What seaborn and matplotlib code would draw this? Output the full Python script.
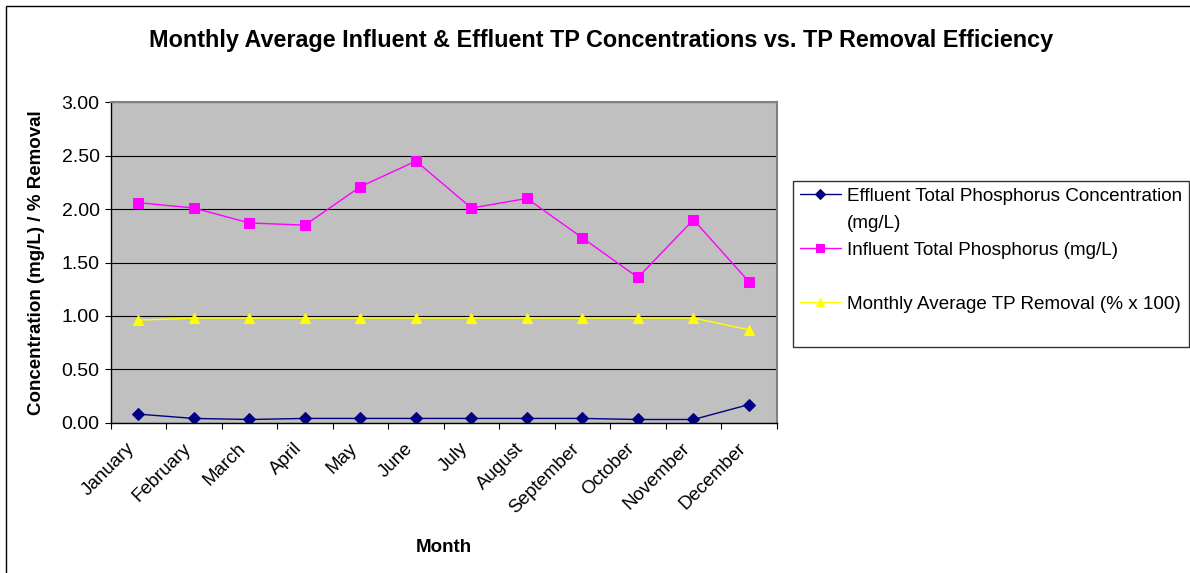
import pandas as pd
import numpy as np
import matplotlib
matplotlib.use('Agg')
import matplotlib.pyplot as plt
from matplotlib.lines import Line2D
from matplotlib.patches import Rectangle
import seaborn as sns

# Data
months = ['January', 'February', 'March', 'April', 'May', 'June', 'July',
          'August', 'September', 'October', 'November', 'December']
effluent_tp = [0.08, 0.04, 0.03, 0.04, 0.04, 0.04, 0.04, 0.04, 0.04, 0.03, 0.03, 0.17]
influent_tp = [2.06, 2.01, 1.87, 1.85, 2.21, 2.45, 2.01, 2.10, 1.73, 1.36, 1.90, 1.32]
tp_removal = [0.96, 0.98, 0.98, 0.98, 0.98, 0.98, 0.98, 0.98, 0.98, 0.98, 0.98, 0.87]

series_names = ['Effluent Total Phosphorus Concentration (mg/L)',
                'Influent Total Phosphorus (mg/L)',
                'Monthly Average TP Removal (% x 100)']

df = pd.DataFrame({'Month': months,
                   series_names[0]: effluent_tp,
                   series_names[1]: influent_tp,
                   series_names[2]: tp_removal})
df['pos'] = np.arange(len(months))

sns.set_style('white')
plt.rcParams['font.family'] = ['Liberation Sans', 'DejaVu Sans']
plt.rcParams['text.color'] = 'black'
plt.rcParams['axes.labelcolor'] = 'black'
plt.rcParams['xtick.color'] = 'black'
plt.rcParams['ytick.color'] = 'black'

fig = plt.figure(figsize=(11.9, 5.73), dpi=100)
ax = fig.add_axes([110.7 / 1190, 1 - 422.7 / 573, 666 / 1190, 320.4 / 573])
ax.set_facecolor('#C0C0C0')

styles = [('#000080', 'D', 6.5), ('#FF00FF', 's', 7.0), ('#FFFF00', '^', 7.5)]
for name, (col, mk, ms) in zip(series_names, styles):
    sns.lineplot(data=df, x='pos', y=name, ax=ax, color=col, marker=mk, markersize=ms,
                 markeredgecolor=col, linewidth=1.0, sort=False, label=name, legend=False)

ax.set_xlim(-0.5, len(months) - 0.5)
ax.set_ylim(0, 3.0)
ax.set_yticks(np.arange(0, 3.01, 0.5))
ax.set_yticklabels([f'{v:.2f}' for v in np.arange(0, 3.01, 0.5)], fontsize=14)
ax.grid(axis='y', color='black', linewidth=0.8)
ax.set_axisbelow(True)

# category boundaries get the tick marks, centres get the labels
ax.set_xticks(np.arange(len(months) + 1) - 0.5)
ax.set_xticklabels([])
ax.set_xticks(np.arange(len(months)), minor=True)
ax.set_xticklabels(months, minor=True, rotation=45, ha='right', va='bottom',
                   rotation_mode='anchor', fontsize=13.5)
ax.tick_params(axis='x', which='major', direction='out', length=4, width=0.8, color='black', bottom=True)
ax.tick_params(axis='x', which='minor', length=0, pad=21)
ax.tick_params(axis='y', direction='out', length=4, width=0.8, color='black', left=True, pad=4)

for side in ['left', 'bottom']:
    ax.spines[side].set_color('black')
    ax.spines[side].set_linewidth(1.0)
for side in ['top', 'right']:
    ax.spines[side].set_color('#808080')
    ax.spines[side].set_linewidth(1.5)

ax.set_xlabel('Month', fontsize=13.5, fontweight='bold', labelpad=16)
ax.set_ylabel('Concentration (mg/L) / % Removal', fontsize=13.5, fontweight='bold', labelpad=12)

fig.text(0.505, 1 - 40 / 573, 'Monthly Average Influent & Effluent TP Concentrations vs. TP Removal Efficiency',
         ha='center', va='center', fontsize=16.8, fontweight='bold')

# legend laid out in rows like the original
lines = ax.get_lines()
blank = Line2D([], [], linestyle='none')
handles = [lines[0], blank, lines[1], blank, lines[2], blank]
labels = ['Effluent Total Phosphorus Concentration', '(mg/L)',
          'Influent Total Phosphorus (mg/L)', ' ',
          'Monthly Average TP Removal (% x 100)', ' ']
leg = fig.legend(handles, labels, loc='upper left', bbox_to_anchor=(793 / 1190, 1 - 181 / 573),
                 borderaxespad=0, fontsize=13.6, frameon=True, fancybox=False, edgecolor='black',
                 labelspacing=0.52, handlelength=2.2, handletextpad=0.3, borderpad=0.35)
leg.get_frame().set_linewidth(1.0)
for h in leg.legend_handles:
    if h is not None and h.get_marker() not in (None, 'None', ''):
        h.set_markersize(5.5)

fig.add_artist(Rectangle((5.5 / 1190, -0.5), 2, 0.5 + 1 - 5.5 / 573, transform=fig.transFigure,
                         fill=False, edgecolor='black', linewidth=1.0))

fig.savefig('out.png', dpi=100)
